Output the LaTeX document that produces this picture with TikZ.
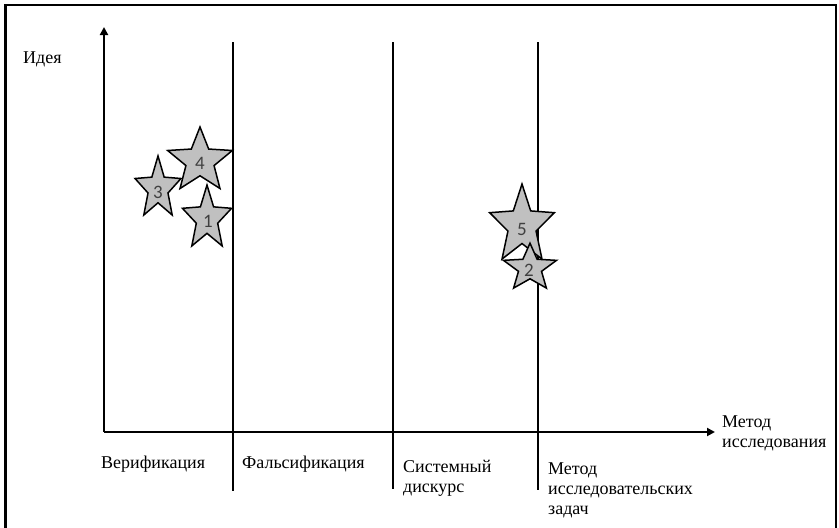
\documentclass[tikz,border=0pt]{standalone}
\usepackage{fontspec}
\setmainfont{Liberation Serif}
\newfontfamily\starfont{Carlito}
\usetikzlibrary{arrows.meta,positioning,shapes.geometric}
\definecolor{stargray}{RGB}{192,192,192}
\definecolor{numgray}{RGB}{64,64,64}

\begin{document}
\begin{tikzpicture}[
  x=1pt,y=-1pt,
  font=\fontsize{18}{20}\selectfont,
  axis/.style={line width=2.4pt,-{Triangle[length=8pt,width=8pt]}},
  divider/.style={line width=2pt},
  thindivider/.style={line width=1.1pt},
  starnode/.style={star,star points=5,star point ratio=2.3,draw=black,line width=1.5pt,
    fill=stargray,minimum size=68pt,inner sep=0pt},
  starnum/.style={font=\starfont\fontsize{19}{19}\selectfont,text=numgray,inner sep=0pt},
  lbl/.style={align=left,inner sep=0pt}
]
\useasboundingbox (0,0) rectangle (839,528);
% frame
\draw[line width=2.5pt] (5.5,528) |- (836,5) -- (836,528);

% axes
\coordinate (O) at (104,432);
\coordinate (ytip) at (104,27);
\coordinate (xtip) at (715,432);
\draw[axis] (O) -- (ytip);
\draw[axis] (O) -- (xtip);

% dividers between the methods
\coordinate (d1top) at (233,42);  \coordinate (d1bot) at (233,491);
\coordinate (d2top) at (393,42);  \coordinate (d2bot) at (393,489);
\coordinate (d3top) at (538,42);  \coordinate (d3bot) at (538,490);
\draw[divider] (d1top) -- (d1bot);
\draw[thindivider] (d2top) -- (d2bot);
\draw[divider] (d3top) -- (d3bot);

% labels
\node[lbl,anchor=base west] (idea) at (23,63) {Идея};
\node[lbl,anchor=north west] (method) at (722,416) {Метод\\исследования};
\node[lbl,anchor=base west] (verif) at (101,468) {Верификация};
\node[lbl,anchor=base west] (falsif) at (242,468) {Фальсификация};
\node[lbl,anchor=north west] (discourse) at (403,459.5) {Системный\\дискурс};
\node[lbl,anchor=north west] (tasks) at (548,463) {Метод\\исследовательских\\задач};

% stars
\node[starnode,xscale=0.71,yscale=0.96] (s3) at (158,188.6) {};
\node[starnode] (s4) at (200,161) {};
\node[starnode,xscale=0.76,yscale=0.99] (s1) at (207,218.7) {};
\node[starnode,yscale=1.22] (s5) at (522,225.5) {};
\node[starnode,xscale=0.82,yscale=0.73] (s2) at (530,268) {};
\node[starnum] (n3) at (158,192) {3};
\node[starnum] (n4) at (200,163) {4};
\node[starnum] (n1) at (208,221) {1};
\node[starnum] (n5) at (522,229) {5};
\node[starnum] (n2) at (529,270) {2};
\end{tikzpicture}
\end{document}
